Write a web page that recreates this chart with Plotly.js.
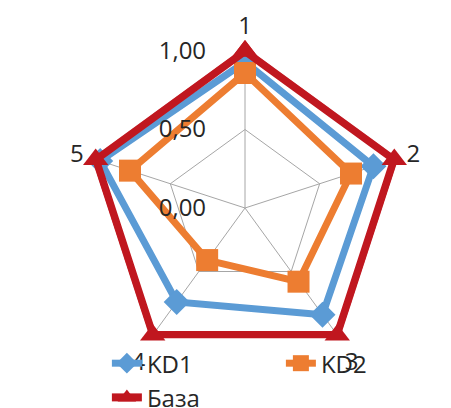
<!DOCTYPE html>
<html>
<head>
<meta charset="utf-8">
<script src="https://cdn.plot.ly/plotly-3.0.1.min.js"></script>
<style>
  html, body { margin: 0; padding: 0; background: #ffffff; }
  #chart { width: 451px; height: 408px; }
</style>
</head>
<body>
<div id="chart"></div>
<script>
// Axis categories of the radar
const categories = ["1", "2", "3", "4", "5"];

// Series values (0..1 scale)
const kd1 = [0.93, 0.86, 0.84, 0.74, 0.97];
const kd2 = [0.86, 0.71, 0.58, 0.41, 0.77];
const baza = [1.00, 1.00, 1.00, 1.00, 1.00];

// Radial tick values and labels
const radialTicks = [0, 0.5, 1];
const radialTickText = ["0,00", "0,50", "1,00"];

const seriesNames = ["KD1", "KD2", "База"];

// Close each polygon by repeating the first vertex
function closed(arr) { return arr.concat([arr[0]]); }

const FONT = "Open Sans, DejaVu Sans, sans-serif";
const TXT = "#262626";
const FS = 24;

// Radial range extends a little past 1 so the thick outer line is not clipped
const R_MAX = 1.028;
// Polar area: centre (245, 208) px, radius for 1.0 = 157 px
const cx = 245, cy = 208, r1 = 157, W = 451, H = 408;
const rPix = r1 * R_MAX;

const traces = [
  {
    type: "scatterpolar",
    mode: "lines+markers",
    name: seriesNames[0],
    theta: closed(categories),
    r: closed(kd1),
    line: { color: "#5b9bd5", width: 7 },
    marker: { symbol: "diamond", size: 20, color: "#5b9bd5" },
    cliponaxis: false
  },
  {
    type: "scatterpolar",
    mode: "lines+markers",
    name: seriesNames[1],
    theta: closed(categories),
    r: closed(kd2),
    line: { color: "#ed7d31", width: 7 },
    marker: { symbol: "square", size: 22, color: "#ed7d31" },
    cliponaxis: false
  },
  {
    type: "scatterpolar",
    mode: "lines+markers",
    name: seriesNames[2],
    theta: closed(categories),
    r: closed(baza),
    line: { color: "#c0171f", width: 8 },
    marker: { symbol: "triangle-up", size: 22, color: "#c0171f" },
    cliponaxis: false
  }
];

const layout = {
  width: W,
  height: H,
  margin: { l: 0, r: 0, t: 0, b: 0, autoexpand: false },
  paper_bgcolor: "#ffffff",
  font: { family: FONT, size: FS, color: TXT },
  showlegend: true,
  polar: {
    domain: {
      x: [(cx - rPix) / W, (cx + rPix) / W],
      y: [(H - cy - rPix) / H, (H - cy + rPix) / H]
    },
    gridshape: "linear",
    bgcolor: "rgba(0,0,0,0)",
    radialaxis: {
      range: [0, R_MAX],
      tickvals: radialTicks,
      ticktext: radialTickText,
      angle: 90,
      tickangle: 90,
      side: "counterclockwise",
      showline: false,
      ticks: "outside",
      ticklen: 30,
      tickcolor: "rgba(0,0,0,0)",
      gridcolor: "#a6a6a6",
      gridwidth: 1,
      tickfont: { family: FONT, size: FS, color: TXT }
    },
    angularaxis: {
      type: "category",
      categoryarray: categories,
      rotation: 90,
      direction: "clockwise",
      showline: false,
      ticks: "outside",
      ticklen: 3,
      tickcolor: "rgba(0,0,0,0)",
      gridcolor: "#a6a6a6",
      gridwidth: 1,
      tickfont: { family: FONT, size: FS, color: TXT }
    }
  },
  legend: {
    orientation: "h",
    xref: "container",
    yref: "container",
    x: 0.237,
    xanchor: "left",
    y: 0.164,
    yanchor: "top",
    entrywidth: 129,
    entrywidthmode: "pixels",
    font: { family: FONT, size: FS, color: TXT },
    bgcolor: "rgba(0,0,0,0)"
  }
};

Plotly.newPlot("chart", traces, layout, { displayModeBar: false, staticPlot: true });
</script>
</body>
</html>
